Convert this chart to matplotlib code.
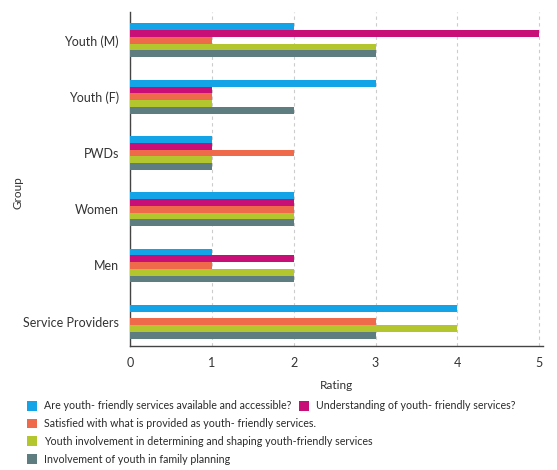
import matplotlib
matplotlib.use("Agg")
import matplotlib.pyplot as plt
import matplotlib.patches as mpatches
import numpy as np

plt.rcParams['font.family'] = ['Lato', 'DejaVu Sans']

groups = ['Youth (M)', 'Youth (F)', 'PWDs', 'Women', 'Men', 'Service Providers']

series_labels = [
    'Are youth- friendly services available and accessible?',
    'Understanding of youth- friendly services?',
    'Satisfied with what is provided as youth- friendly services.',
    'Youth involvement in determining and shaping youth-friendly services',
    'Involvement of youth in family planning',
]

available     = [2, 3, 1, 2, 1, 4]
understanding = [5, 1, 1, 2, 2, 0]
satisfied     = [1, 1, 2, 2, 1, 3]
involvement   = [3, 1, 1, 2, 2, 4]
family_plan   = [3, 2, 1, 2, 2, 3]

series = [available, understanding, satisfied, involvement, family_plan]
COLORS = ['#12A4E6', '#C80F78', '#EE6A4B', '#B3C62D', '#5E7D81']

fig = plt.figure(figsize=(5.57, 4.70), dpi=100, facecolor='white')
ax = fig.add_axes([0.2334, 0.264, 0.742, 0.71])

ypos = np.arange(len(groups))
bar_h = 0.12
for i, (vals, col) in enumerate(zip(series, COLORS)):
    ax.barh(ypos + (i - 2) * bar_h, vals, height=bar_h, color=col,
            label=series_labels[i], zorder=3)

ax.set_ylim(len(groups) - 0.57, -0.5)
ax.set_xlim(0, 5.05)
ax.set_yticks(ypos)
ax.set_yticklabels(groups, fontsize=9, color='#333333')
ax.set_xticks(range(6))
ax.tick_params(axis='x', labelsize=9, colors='#333333', length=0, pad=8)
ax.tick_params(axis='y', length=0, pad=8)

ax.grid(axis='x', linestyle=(0, (3, 3)), color='#CCCCCC', lw=0.8, zorder=0)
for s in ['top', 'right']:
    ax.spines[s].set_visible(False)
for s in ['left', 'bottom']:
    ax.spines[s].set_color('#444444')
    ax.spines[s].set_linewidth(1.0)

ax.set_xlabel('Rating', fontsize=8.5, color='#333333', labelpad=8)
ax.set_ylabel('Group', fontsize=8.5, color='#333333')
ax.yaxis.set_label_coords(-0.258, 0.46)

handles = [mpatches.Patch(facecolor=c, label=l) for c, l in zip(COLORS, series_labels)]

leg_kw = dict(frameon=False, fontsize=7.7, handlelength=1.0, handleheight=1.0,
              handletextpad=0.6, borderaxespad=0, borderpad=0,
              labelcolor='#2A2A2A')
leg1 = fig.legend(handles=handles[:2], loc='upper left', ncol=2,
                  bbox_to_anchor=(0.048, 0.148), columnspacing=0.7, **leg_kw)
leg2 = fig.legend(handles=handles[2:], loc='upper left', ncol=1,
                  bbox_to_anchor=(0.048, 0.110), labelspacing=0.62, **leg_kw)

plt.savefig('out.png', dpi=100, facecolor='white')
